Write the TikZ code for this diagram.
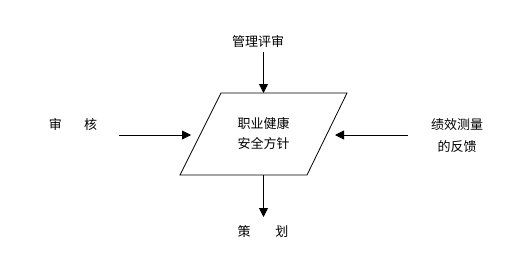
\documentclass[tikz,border=0pt]{standalone}
\usepackage{fontspec}
\setmainfont{Noto Sans CJK SC}
\usetikzlibrary{positioning,calc,arrows.meta,shapes.geometric}

\begin{document}
\begin{tikzpicture}[x=1pt, y=-1pt, ->, >={Triangle[length=9pt,width=9pt]}, line width=0.8pt, main/.style = {align=center, inner sep=0pt, font=\fontsize{13}{20}\selectfont}, txt/.style = {align=center, inner sep=1pt, font=\fontsize{13}{22}\selectfont}]

\useasboundingbox (0,0) rectangle (516,265);

% parallelogram corners
\coordinate (ptl) at (221,93);
\coordinate (ptr) at (347,93);
\coordinate (pbr) at (307,175);
\coordinate (pbl) at (180,175);
\draw[-] (pbl) -- (ptl) -- (ptr) -- (pbr) -- cycle;

\node[main] (policy) at (263.5,134) {职业健康\\安全方针};
\node[txt] (review) at (258,42) {管理评审};
\node[txt] (plan) at (263,232) {策\hspace{1.9em}划};
\node[txt] (audit) at (73,125) {审\hspace{1.7em}核};
\node[txt] (feedback) at (457,136) {绩效测量\\的反馈};

\coordinate (reviewend) at (263.5,52);
\coordinate (planend) at (263.5,217);
\coordinate (auditend) at (119,135);
\coordinate (audittip) at (191,135);
\coordinate (feedbackend) at (408,135);
\coordinate (feedbacktip) at (335,135);

\path
 (reviewend) edge (ptl -| policy)
 (pbl -| policy) edge (planend)
 (auditend) edge (audittip)
 (feedbackend) edge (feedbacktip);
\end{tikzpicture}
\end{document}
